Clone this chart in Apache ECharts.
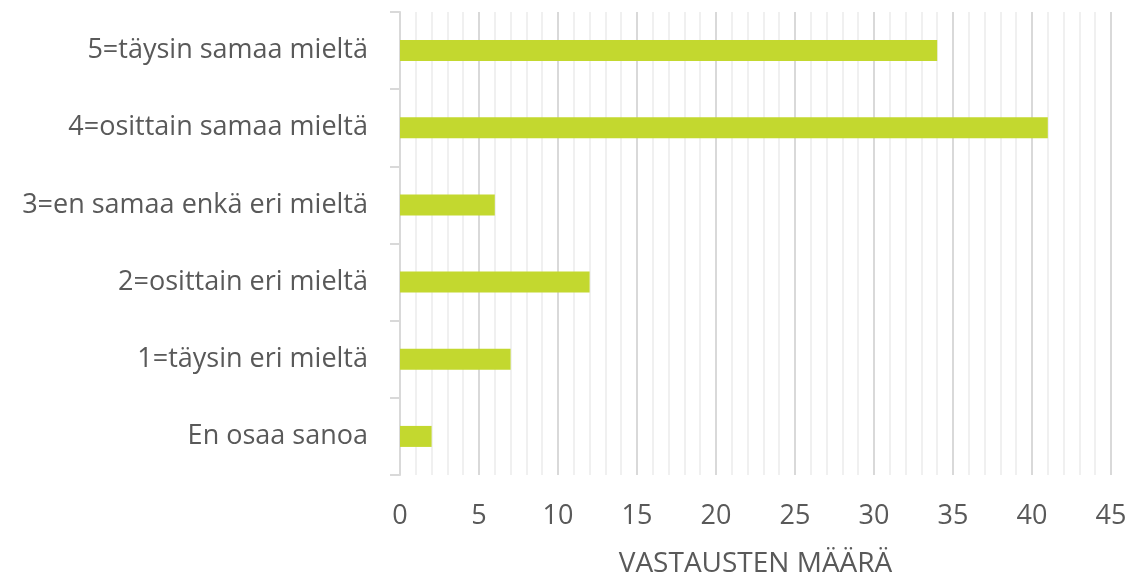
<!DOCTYPE html>
<html>
<head>
<meta charset="utf-8">
<script src="https://cdn.jsdelivr.net/npm/echarts@6/dist/echarts.min.js"></script>
<style>
  html, body { margin: 0; padding: 0; background: #fff; }
  #chart { width: 1130px; height: 576px; }
</style>
</head>
<body>
<div id="chart"></div>
<script>
// vastausvaihtoehdot ylhäältä alas
var categories = ['5=täysin samaa mieltä', '4=osittain samaa mieltä', '3=en samaa enkä eri mieltä',
  '2=osittain eri mieltä', '1=täysin eri mieltä', 'En osaa sanoa'];
var counts = [34, 41, 6, 12, 7, 2];
var axisName = 'VASTAUSTEN MÄÄRÄ';

var chart = echarts.init(document.getElementById('chart'));
chart.setOption({
  animation: false,
  textStyle: { fontFamily: 'Open Sans' },
  grid: { left: 400, right: 19, top: 12, bottom: 101, containLabel: false, outerBoundsMode: 'none' },
  xAxis: {
    type: 'value',
    min: 0,
    max: 45,
    interval: 5,
    name: axisName,
    nameLocation: 'middle',
    nameGap: 75,
    nameTextStyle: { color: '#595959', fontSize: 28 },
    axisLine: { show: false },
    axisTick: { show: false },
    axisLabel: { color: '#595959', fontSize: 27, margin: 28 },
    splitLine: { lineStyle: { color: '#d9d9d9', width: 2 } },
    minorTick: { show: false, splitNumber: 5 },
    minorSplitLine: { show: true, lineStyle: { color: '#f0f0f0', width: 2 } }
  },
  yAxis: {
    type: 'category',
    inverse: true,
    data: categories,
    axisLine: { lineStyle: { color: '#d9d9d9', width: 2 } },
    axisTick: { show: true, inside: false, length: 10, lineStyle: { color: '#d9d9d9', width: 2 } },
    axisLabel: { color: '#595959', fontSize: 27, margin: 32 }
  },
  series: [
    {
      type: 'bar',
      data: counts,
      barWidth: 21,
      itemStyle: { color: '#c3d82f' }
    }
  ]
});
</script>
</body>
</html>
